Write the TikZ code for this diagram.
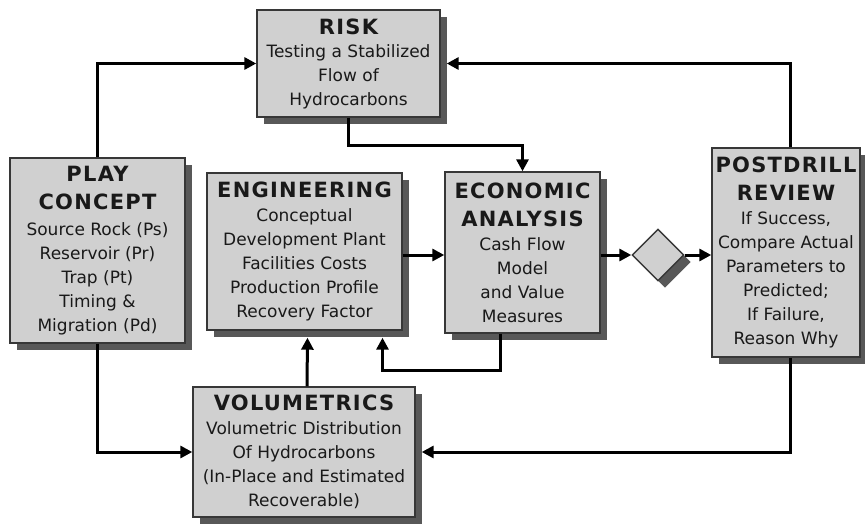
\documentclass[tikz,border=0pt]{standalone}
\usepackage{fontspec}
\setmainfont{DejaVu Sans}
\usetikzlibrary{shadows,shapes.geometric,arrows.meta,calc}
\definecolor{boxfill}{RGB}{208,208,208}
\definecolor{boxshade}{RGB}{88,88,88}
\definecolor{boxline}{RGB}{55,55,55}
\definecolor{ink}{RGB}{25,25,25}
\newcommand{\hd}[1]{{\fontsize{21}{23}\selectfont\bfseries\addfontfeature{LetterSpace=6}#1}}
\tikzset{
  box/.style={draw=boxline, line width=1.4pt, fill=boxfill, text=ink,
    align=center, inner sep=1pt, font=\fontsize{17}{24}\selectfont,
    drop shadow={shadow xshift=7pt, shadow yshift=-7pt, fill=boxshade, opacity=1}},
  flow/.style={draw=black, line width=3pt, -{Triangle[length=12pt,width=12pt]}},
}
\begin{document}
\begin{tikzpicture}[x=1pt,y=-1pt]
\useasboundingbox (0,0) rectangle (865,525);

% process boxes
\node[box, minimum width=183pt, minimum height=107pt] (risk) at (348.5,63.5)
  {\hd{RISK}\\[-1pt]Testing a Stabilized\\Flow of\\Hydrocarbons};
\node[box, minimum width=175pt, minimum height=185pt] (play) at (97.5,250.5)
  {\hd{PLAY}\\[4pt]\hd{CONCEPT}\\[2pt]Source Rock (Ps)\\Reservoir (Pr)\\Trap (Pt)\\Timing \&\\Migration (Pd)};
\node[box, minimum width=195pt, minimum height=157pt] (eng) at (304.5,251.5)
  {\hd{ENGINEERING}\\Conceptual\\Development Plant\\Facilities Costs\\Production Profile\\Recovery Factor};
\node[box, minimum width=155pt, minimum height=161pt] (econ) at (522.5,252.5)
  {\hd{ECONOMIC}\\[4pt]\hd{ANALYSIS}\\Cash Flow\\Model\\and Value\\Measures};
\node[box, minimum width=148pt, minimum height=209pt] (post) at (786,252.5)
  {\hd{POSTDRILL}\\[4pt]\hd{REVIEW}\\If Success,\\Compare Actual\\Parameters to\\Predicted;\\If Failure,\\Reason Why};
\node[box, minimum width=222pt, minimum height=130pt] (vol) at (304,452)
  {\hd{VOLUMETRICS}\\Volumetric Distribution\\Of Hydrocarbons\\(In-Place and Estimated\\Recoverable)};

% decision point
\node[box, diamond, minimum width=52pt, minimum height=52pt, inner sep=0pt] (dia) at (658,255) {};

% connectors
\draw[flow] (play.north) |- (risk.west);
\draw[flow] ($(post.north)+(4,0)$) |- ($(risk.east)+(6,0)$);
\draw[flow] (risk.south) -- ++(0,28) -| (econ.north);
\draw[flow] (eng.east |- dia.center) -- (econ.west |- dia.center);
\draw[flow] (econ.east |- dia.center) -- (dia.west);
\draw[flow] (dia.east) -- (post.west |- dia.center);
\draw[flow] ($(econ.south)+(-22,0)$) -- ++(0,37) -| ($(eng.south)+(78,7)$);
\draw[flow] ($(vol.north)+(3,0)$) -- ($(eng.south)+(3,7)$);
\draw[flow] (play.south) |- (vol.west);
\draw[flow] ($(post.south)+(4,0)$) |- ($(vol.east)+(6,0)$);
\end{tikzpicture}
\end{document}
